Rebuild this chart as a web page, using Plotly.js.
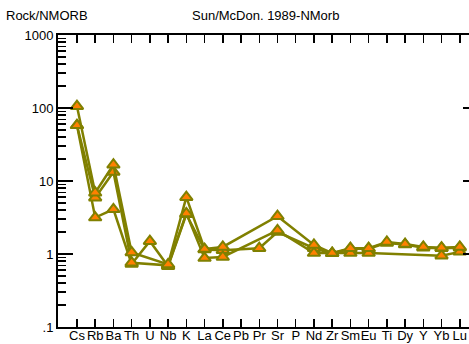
<!DOCTYPE html>
<html>
<head>
<meta charset="utf-8">
<script src="https://cdn.plot.ly/plotly-3.0.1.min.js"></script>
<style>
html, body { margin: 0; padding: 0; overflow: hidden; background: #fff; }
#chart { width: 478px; height: 344px; }
</style>
</head>
<body>
<div id="chart"></div>
<script>
var elements = ["Cs","Rb","Ba","Th","U","Nb","K","La","Ce","Pb","Pr","Sr","P","Nd","Zr","Sm","Eu","Ti","Dy","Y","Yb","Lu"];

var sample1 = [106, 6.9, 16.7, 1.05, null, 0.72, 6.0, 1.17, 1.25, null, null, 3.3, null, 1.33, 1.03, 1.2, 1.2, 1.46, 1.37, 1.25, 1.22, 1.25];
var sample2 = [58, 5.9, 13.3, 0.76, null, 0.70, 3.6, 0.88, 0.91, null, null, 2.1, null, 1.03, 1.03, 1.03, 1.03, null, null, null, 0.95, 1.07];
var sample3 = [58, 3.16, 4.1, 0.73, 1.5, 0.68, 3.5, 1.15, 1.13, null, 1.2, 2.0, null, 1.2, 1.02, 1.18, 1.18, 1.42, 1.35, 1.22, 1.2, 1.22];

var yTickVals = [0.1, 1, 10, 100, 1000];
var yTickText = [".1", "1", "10", "100", "1000"];
var yMinorVals = [];
[0.1, 1, 10, 100].forEach(function (d) {
  for (var k = 2; k <= 9; k++) yMinorVals.push(+(d * k).toPrecision(3));
});

var lineColor = "#808000";
var fillColor = "#FF8000";

function mk(vals) {
  return {
    type: "scatter",
    mode: "lines+markers",
    x: elements,
    y: vals,
    connectgaps: true,
    line: { color: lineColor, width: 2.5 },
    marker: { symbol: "triangle-up", size: 11, color: fillColor, line: { color: lineColor, width: 2 } },
    hoverinfo: "skip"
  };
}

var data = [mk(sample3), mk(sample2), mk(sample1)];

var font = { family: "Liberation Sans, Arial, sans-serif", size: 13, color: "#000" };

var layout = {
  width: 478,
  height: 344,
  margin: { l: 58, r: 0, t: 35, b: 17, pad: 0 },
  paper_bgcolor: "#fff",
  plot_bgcolor: "#fff",
  showlegend: false,
  font: font,
  xaxis: {
    type: "category",
    range: [-1.04, 22],
    tickmode: "array",
    tickvals: elements,
    ticktext: elements,
    tickangle: 0,
    ticks: "inside",
    ticklen: 8,
    tickwidth: 1.5,
    tickcolor: "#000",
    showline: true,
    linecolor: "#000",
    linewidth: 2,
    mirror: "ticks",
    showgrid: false,
    zeroline: false,
    tickfont: font,
    ticklabelstandoff: -5
  },
  yaxis: {
    type: "log",
    range: [-1, 3],
    tickmode: "array",
    tickvals: yTickVals,
    ticktext: yTickText,
    ticks: "inside",
    ticklen: 15,
    tickwidth: 1.5,
    tickcolor: "#000",
    showline: true,
    linecolor: "#000",
    linewidth: 2,
    mirror: "ticks",
    showgrid: false,
    zeroline: false,
    tickfont: font,
    minor: {
      tickmode: "array",
      tickvals: yMinorVals,
      ticks: "inside",
      ticklen: 8,
      tickwidth: 1.5,
      tickcolor: "#000",
      showgrid: false
    }
  },
  annotations: [
    { text: "Rock/NMORB", xref: "paper", yref: "paper", x: -0.128, y: 1.035, xanchor: "left", yanchor: "bottom", showarrow: false, font: font },
    { text: "Sun/McDon. 1989-NMorb", xref: "paper", yref: "paper", x: 0.493, y: 1.035, xanchor: "center", yanchor: "bottom", showarrow: false, font: font }
  ]
};

Plotly.newPlot("chart", data, layout, { staticPlot: true, displayModeBar: false });
</script>
</body>
</html>
